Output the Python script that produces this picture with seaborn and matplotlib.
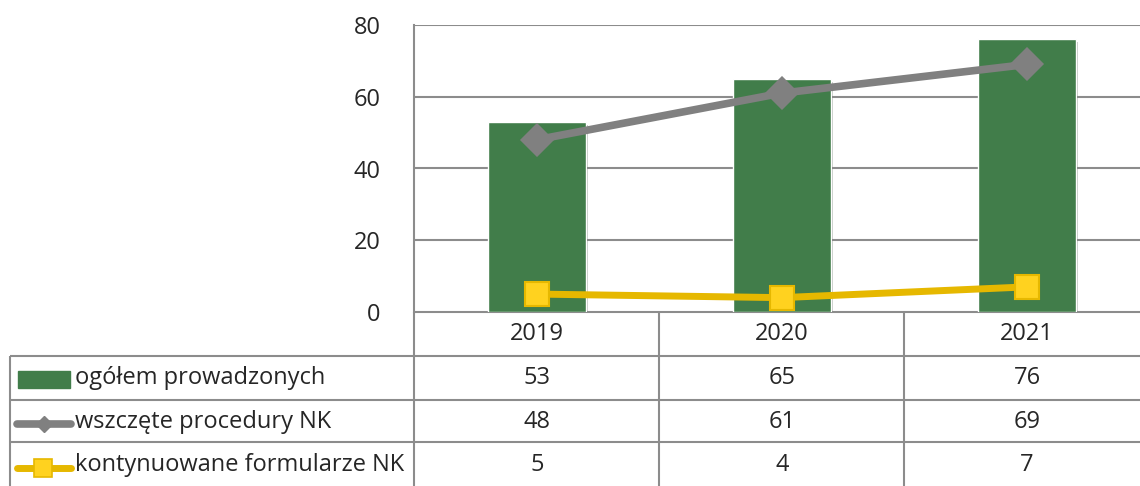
import matplotlib
matplotlib.use("Agg")
import matplotlib.pyplot as plt
import matplotlib.patheffects as pe
import seaborn as sns

sns.set_style("white")
plt.rcParams['font.family'] = ['Open Sans', 'DejaVu Sans']

# dane
years = ["2019", "2020", "2021"]
ogolem = [53, 65, 76]
wszczete = [48, 61, 69]
kontynuowane = [5, 4, 7]
labels = ["ogółem prowadzonych", "wszczęte procedury NK", "kontynuowane formularze NK"]

green = "#417D4A"
gray = "#808080"
yellow = "#E6B800"
yellow_fill = "#FFD21F"
line_c = "#8C8C8C"
txt_c = "#262626"
fs = 17

W, H = 1140, 486
fig = plt.figure(figsize=(W / 100, H / 100), dpi=100)

# wykres
ax = fig.add_axes([414 / W, (H - 312) / H, 735 / W, 287 / H])
sns.barplot(x=years, y=ogolem, color=green, width=0.4, saturation=1, ax=ax, zorder=2)
for p in ax.patches:
    p.set_path_effects([pe.SimplePatchShadow(offset=(2, -2), alpha=0.25), pe.Normal()])
shadow = [pe.SimpleLineShadow(offset=(1.5, -2), alpha=0.3), pe.Normal()]
sns.pointplot(x=years, y=wszczete, color=gray, markers="D", errorbar=None,
              linewidth=5.5, markersize=13, markeredgecolor=gray, ax=ax, zorder=3)
sns.pointplot(x=years, y=kontynuowane, color=yellow, markers="s", errorbar=None,
              linewidth=5, markersize=17, markerfacecolor=yellow_fill,
              markeredgecolor=yellow, markeredgewidth=1.5, ax=ax, zorder=4)

ax.set_xlim(-0.5, 2.5)
ax.set_ylim(0, 80)
ax.set_yticks([0, 20, 40, 60, 80])
ax.yaxis.grid(True, color=line_c, lw=1.5)
ax.set_axisbelow(True)
ax.tick_params(axis="y", length=0, pad=24, labelsize=fs, labelcolor=txt_c)
ax.set_xticks([])
ax.set_xlabel("")
ax.set_ylabel("")
for s in ["top", "right", "bottom"]:
    ax.spines[s].set_visible(False)
ax.spines["left"].set_color(line_c)
ax.spines["left"].set_linewidth(1.5)

# tabela danych
tb = fig.add_axes([0, 0, 1, 1], zorder=-1)
tb.set_xlim(0, W)
tb.set_ylim(H, 0)
tb.axis("off")
kw = dict(color=line_c, lw=1.5, solid_capstyle="butt")
tb.plot([414, W], [312, 312], **kw)
for y in [356, 400, 442]:
    tb.plot([10, W], [y, y], **kw)
tb.plot([10, 10], [356, H], **kw)
for x in [414, 659, 904]:
    tb.plot([x, x], [312, H], **kw)

cx = [537, 782, 1027]
rows_y = [378, 422, 465]
for x, yr in zip(cx, years):
    tb.text(x, 334, yr, ha="center", va="center", fontsize=fs, color=txt_c)
for ry, vals in zip(rows_y, [ogolem, wszczete, kontynuowane]):
    for x, v in zip(cx, vals):
        tb.text(x, ry, str(v), ha="center", va="center", fontsize=fs, color=txt_c)

# klucze legendy
tb.add_patch(plt.Rectangle((18, 371), 52, 17, color=green))
tb.plot([17, 71], [424, 424], color=gray, lw=5.5, solid_capstyle="round")
tb.plot([44], [424], marker="D", ms=8, color=gray)
tb.plot([17, 71], [468, 468], color=yellow, lw=5, solid_capstyle="round")
tb.plot([43], [468], marker="s", ms=13, mfc=yellow_fill, mec=yellow, mew=1.2)
for ry, lab in zip(rows_y, labels):
    tb.text(75, ry, lab, ha="left", va="center", fontsize=fs, color=txt_c)

fig.savefig("out.png", dpi=100)
